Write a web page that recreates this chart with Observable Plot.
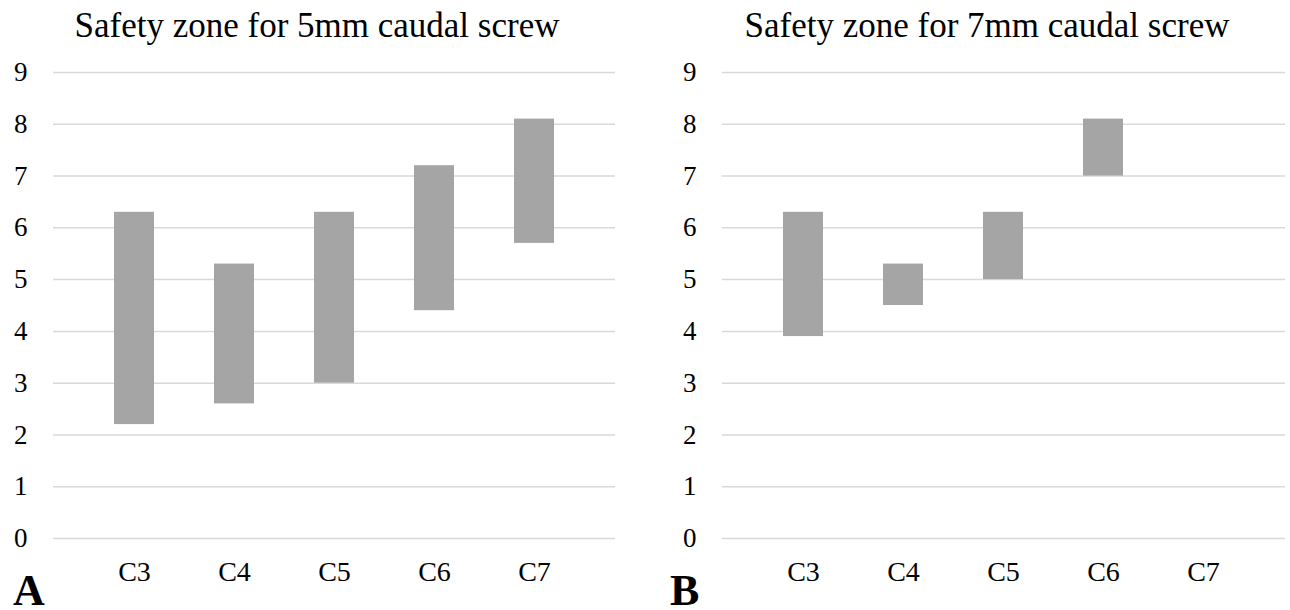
<!DOCTYPE html>
<html>
<head>
<meta charset="utf-8">
<script src="https://cdn.jsdelivr.net/npm/d3@7"></script>
<script src="https://cdn.jsdelivr.net/npm/@observablehq/plot@0.6"></script>
<style>
  html, body { margin: 0; padding: 0; background: #fff; }
  #root { position: relative; width: 1290px; height: 610px; overflow: hidden; font-family: "Liberation Serif", "Times New Roman", serif; color: #000; }
  .panel { position: absolute; top: 0; width: 645px; height: 610px; }
  .panel svg { position: absolute; left: 0; top: 40px; overflow: visible; }
  .title { position: absolute; top: 8px; font-size: 35px; line-height: 35px; white-space: nowrap; transform: translateX(-50%); }
  .letter { position: absolute; top: 576px; font-size: 44px; line-height: 30px; font-weight: bold; }
</style>
</head>
<body>
<div id="root"></div>
<script>
const categories = ["C3", "C4", "C5", "C6", "C7"];
const yTicks = [0, 1, 2, 3, 4, 5, 6, 7, 8, 9];
const title5 = "Safety zone for 5mm caudal screw";
const title7 = "Safety zone for 7mm caudal screw";
const low5 = [2.2, 2.6, 3.0, 4.4, 5.7];
const high5 = [6.3, 5.3, 6.3, 7.2, 8.1];
const low7 = [3.9, 4.5, 5.0, 7.0, null];
const high7 = [6.3, 5.3, 6.3, 8.1, null];

const serif = "'Liberation Serif', 'Times New Roman', serif";

function makePanel(lows, highs, marginLeft, marginRight) {
  const data = categories.map((c, i) => ({cat: c, lo: lows[i], hi: highs[i]}))
    .filter(d => d.lo != null && d.hi != null);
  return Plot.plot({
    width: 645,
    height: 570,
    marginTop: 32,
    marginBottom: 72,
    marginLeft,
    marginRight,
    style: {fontFamily: serif, color: "#000", background: "transparent"},
    x: {domain: categories, padding: 0.6, label: null},
    y: {domain: [0, 9], label: null},
    marks: [
      Plot.gridY(yTicks, {stroke: "#d9d9d9", strokeOpacity: 1, strokeWidth: 1.5}),
      Plot.barY(data, {x: "cat", y1: "lo", y2: "hi", fill: "#a5a5a5", inset: 0}),
      Plot.axisY(yTicks, {tickSize: 0, tickPadding: 26, fontSize: 27, fontFamily: serif, label: null, tickFormat: d => String(d)}),
      Plot.axisX({tickSize: 0, tickPadding: 23, fontSize: 28, fontFamily: serif, label: null})
    ]
  });
}

const root = document.getElementById("root");

function addPanel(left, svg, titleText, titleCenter, letter, letterLeft) {
  const p = document.createElement("div");
  p.className = "panel";
  p.style.left = left + "px";
  p.appendChild(svg);
  const t = document.createElement("div");
  t.className = "title";
  t.style.left = titleCenter + "px";
  t.textContent = titleText;
  p.appendChild(t);
  const l = document.createElement("div");
  l.className = "letter";
  l.style.left = letterLeft + "px";
  l.textContent = letter;
  p.appendChild(l);
  root.appendChild(p);
}

addPanel(0, makePanel(low5, high5, 53, 30), title5, 317, "A", 13);
addPanel(645, makePanel(low7, high7, 77, 5), title7, 342, "B", 25);
</script>
</body>
</html>
